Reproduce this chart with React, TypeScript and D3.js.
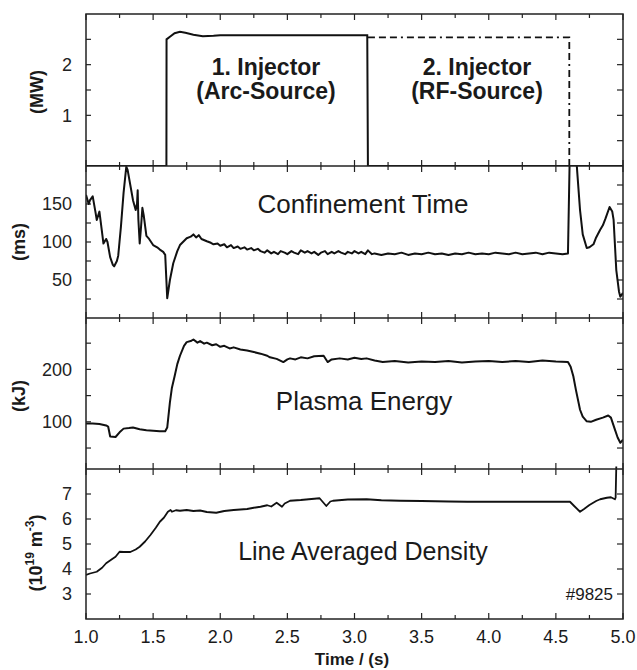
import React from "react";
import * as d3 from "d3";

// ---------- data ----------
const timeTicks = [1.0, 1.5, 2.0, 2.5, 3.0, 3.5, 4.0, 4.5, 5.0];

// Panel 1: injector power (MW)
const inj1T = [1.0, 1.599, 1.6, 1.63, 1.66, 1.7, 1.74, 1.8, 1.87, 1.95, 2.0, 2.5, 3.0, 3.095, 3.1, 5.0];
const inj1V = [0, 0, 2.5, 2.56, 2.62, 2.65, 2.63, 2.59, 2.56, 2.57, 2.58, 2.58, 2.58, 2.58, 0, 0];
const inj2T = [3.1, 4.6, 4.6];
const inj2V = [2.54, 2.54, 0];

// Panel 2: confinement time (ms)
const tauT = [1.0, 1.02, 1.03, 1.05, 1.07, 1.08, 1.1, 1.12, 1.13, 1.15, 1.16, 1.18, 1.2, 1.21, 1.23, 1.24, 1.26, 1.28, 1.3, 1.31, 1.33, 1.35, 1.37, 1.38, 1.385, 1.39, 1.4, 1.41, 1.42, 1.43, 1.45, 1.47, 1.5, 1.53, 1.55, 1.575, 1.59, 1.605, 1.625, 1.65, 1.68, 1.7, 1.75, 1.78, 1.8, 1.82, 1.84, 1.86, 1.9, 1.93, 1.95, 1.98, 2.0, 2.03, 2.05, 2.08, 2.1, 2.13, 2.15, 2.18, 2.2, 2.23, 2.25, 2.28, 2.3, 2.33, 2.35, 2.38, 2.4, 2.43, 2.45, 2.48, 2.5, 2.53, 2.55, 2.58, 2.6, 2.63, 2.65, 2.68, 2.7, 2.73, 2.75, 2.78, 2.8, 2.83, 2.85, 2.88, 2.9, 2.93, 2.95, 2.98, 3.0, 3.03, 3.05, 3.08, 3.1, 3.13, 3.15, 3.2, 3.25, 3.3, 3.35, 3.4, 3.45, 3.5, 3.55, 3.6, 3.65, 3.7, 3.75, 3.8, 3.85, 3.9, 3.95, 4.0, 4.05, 4.1, 4.15, 4.2, 4.25, 4.3, 4.35, 4.4, 4.45, 4.5, 4.55, 4.59, 4.605, 4.64, 4.66, 4.68, 4.7, 4.73, 4.75, 4.78, 4.8, 4.83, 4.85, 4.87, 4.9, 4.92, 4.93, 4.95, 4.97, 4.98, 5.0];
const tauV = [162, 150, 155, 160, 140, 129, 140, 112, 98, 104, 100, 80, 70, 68, 75, 82, 120, 165, 199, 195, 175, 155, 142, 150, 168, 130, 98, 120, 145, 135, 108, 104, 96, 93, 90, 87, 83, 26, 50, 72, 88, 96, 105, 107, 110, 106, 109, 104, 101, 99, 97, 98, 95, 97, 93, 96, 92, 94, 91, 93, 90, 92, 89, 91, 88, 86, 89, 85, 87, 84, 88, 86, 84, 88, 86, 84, 89, 86, 88, 85, 87, 83, 86, 88, 84, 87, 85, 88, 86, 84, 87, 85, 88, 85, 87, 84, 89, 84, 85, 83, 85, 84, 86, 83, 85, 84, 86, 84, 85, 83, 85, 84, 86, 84, 85, 84, 86, 85, 84, 86, 84, 85, 86, 84, 86, 85, 84, 85, 230, 240, 190, 142, 110, 92, 93, 97, 106, 116, 122, 131, 146, 140, 129, 63, 35, 28, 33];

// Panel 3: plasma energy (kJ)
const wT = [1.0, 1.05, 1.1, 1.15, 1.165, 1.18, 1.22, 1.25, 1.28, 1.32, 1.35, 1.4, 1.45, 1.5, 1.55, 1.59, 1.605, 1.625, 1.64, 1.66, 1.68, 1.7, 1.73, 1.75, 1.78, 1.8, 1.83, 1.85, 1.88, 1.9, 1.94, 1.97, 2.0, 2.03, 2.07, 2.1, 2.15, 2.2, 2.25, 2.3, 2.35, 2.37, 2.42, 2.47, 2.5, 2.52, 2.56, 2.6, 2.65, 2.7, 2.77, 2.8, 2.83, 2.89, 2.95, 3.0, 3.05, 3.09, 3.15, 3.21, 3.3, 3.4, 3.5, 3.6, 3.7, 3.8, 3.9, 4.0, 4.1, 4.2, 4.3, 4.4, 4.5, 4.59, 4.61, 4.63, 4.65, 4.68, 4.7, 4.73, 4.76, 4.8, 4.85, 4.89, 4.91, 4.94, 4.96, 4.98, 5.0];
const wV = [97, 97, 96, 93, 91, 72, 71, 80, 87, 88, 89, 86, 84, 83, 82, 82, 89, 137, 165, 187, 210, 226, 245, 252, 254, 257, 251, 254, 249, 251, 246, 248, 243, 245, 240, 242, 238, 236, 233, 230, 226, 223, 220, 214, 219, 221, 219, 223, 221, 225, 226, 214, 219, 221, 219, 222, 220, 221, 217, 214, 216, 213, 215, 214, 216, 213, 215, 216, 214, 216, 214, 217, 215, 214, 205, 187, 160, 123, 110, 101, 100, 104, 108, 112, 108, 85, 70, 60, 66];

// Panel 4: line averaged density (1e19 m^-3)
const nT = [1.0, 1.03, 1.08, 1.12, 1.15, 1.19, 1.22, 1.25, 1.28, 1.33, 1.37, 1.4, 1.44, 1.48, 1.52, 1.55, 1.58, 1.61, 1.63, 1.64, 1.67, 1.7, 1.75, 1.8, 1.85, 1.9, 1.97, 2.03, 2.1, 2.15, 2.2, 2.25, 2.3, 2.35, 2.38, 2.42, 2.46, 2.48, 2.52, 2.6, 2.68, 2.74, 2.79, 2.82, 2.84, 2.95, 3.09, 3.2, 3.34, 3.5, 3.7, 3.84, 4.0, 4.33, 4.605, 4.64, 4.68, 4.71, 4.75, 4.8, 4.83, 4.88, 4.91, 4.94, 4.945, 4.95];
const nV = [3.76, 3.82, 3.89, 4.05, 4.23, 4.38, 4.49, 4.69, 4.68, 4.68, 4.78, 4.89, 5.1, 5.36, 5.65, 5.89, 6.05, 6.29, 6.36, 6.29, 6.35, 6.33, 6.36, 6.32, 6.34, 6.28, 6.25, 6.32, 6.36, 6.38, 6.4, 6.45, 6.49, 6.55, 6.5, 6.65, 6.49, 6.62, 6.73, 6.76, 6.8, 6.83, 6.52, 6.7, 6.73, 6.78, 6.79, 6.75, 6.73, 6.72, 6.7, 6.69, 6.69, 6.69, 6.69, 6.5, 6.29, 6.4, 6.56, 6.72, 6.79, 6.85, 6.87, 6.79, 6.85, 8.1];

const p1Ticks = [0.5, 1, 1.5, 2, 2.5];
const p1Labels = [1, 2];
const p2Ticks = [25, 50, 75, 100, 125, 150, 175];
const p2Labels = [50, 100, 150];
const p3Ticks = [50, 100, 150, 200, 250];
const p3Labels = [100, 200];
const p4Ticks = [3, 4, 5, 6, 7];
const p4Labels = [3, 4, 5, 6, 7];

// ---------- layout ----------
const W = 637;
const H = 670;
const L = 86;
const R = 623;
const tops = [14, 166, 318, 469];
const bottom = 619;
const FONT = "'Liberation Sans', Arial, Helvetica, sans-serif";

const x = d3.scaleLinear().domain([1, 5]).range([L, R]);

function Panel({ top, bot, domain, tickVals, labelVals, id, children }: any) {
  const y = d3.scaleLinear().domain(domain).range([bot, top]);
  return (
    <g>
      <defs>
        <clipPath id={id}>
          <rect x={L} y={top} width={R - L} height={bot - top} />
        </clipPath>
      </defs>
      {tickVals.map((v: number) => (
        <g key={v}>
          <line x1={L} x2={L + 5} y1={y(v)} y2={y(v)} stroke="#222" strokeWidth={1.2} />
          <line x1={R - 6} x2={R} y1={y(v)} y2={y(v)} stroke="#222" strokeWidth={1.2} />
        </g>
      ))}
      {labelVals.map((v: number) => (
        <text key={"l" + v} x={72} y={y(v)} dy="0.36em" textAnchor="end" fontSize={18} fontFamily={FONT} fill="#222">
          {v}
        </text>
      ))}
      <g clipPath={`url(#${id})`}>{children(y)}</g>
    </g>
  );
}

function mkLine(ts: number[], vs: number[], y: any) {
  const pts = ts.map((t, i) => [t, vs[i]] as [number, number]);
  return d3.line<[number, number]>().x((d) => x(d[0])).y((d) => y(d[1]))(pts) || "";
}

export default function App() {
  const minorX = d3.range(1, 5.0001, 0.25);
  return (
    <svg width={W} height={H} style={{ position: "absolute", left: 0, top: 0, background: "#fff" }}>
      <rect x={0} y={0} width={W} height={H} fill="#fff" />
      {[...tops, bottom].map((yy, bi) =>
        minorX.map((t) => {
          const major = Math.abs(t * 2 - Math.round(t * 2)) < 1e-6;
          const len = major ? 6 : 4;
          const up = bi > 0 ? len : 0;
          const down = bi < 4 ? len : 0;
          return <line key={bi + "-" + t} x1={x(t)} x2={x(t)} y1={yy - up} y2={yy + down} stroke="#222" strokeWidth={1.2} />;
        })
      )}

      <Panel id="c1" top={tops[0]} bot={tops[1]} domain={[0, 3]} tickVals={p1Ticks} labelVals={p1Labels}>
        {(y: any) => (
          <g fill="none" stroke="#111">
            <path d={mkLine(inj1T, inj1V, y)} strokeWidth={2} />
            <path d={mkLine(inj2T, inj2V, y)} strokeWidth={1.8} strokeDasharray="7,4,7,4,7,4,2,4" />
          </g>
        )}
      </Panel>
      <Panel id="c2" top={tops[1]} bot={tops[2]} domain={[0, 200]} tickVals={p2Ticks} labelVals={p2Labels}>
        {(y: any) => <path d={mkLine(tauT, tauV, y)} fill="none" stroke="#111" strokeWidth={2} strokeLinejoin="round" />}
      </Panel>
      <Panel id="c3" top={tops[2]} bot={tops[3]} domain={[10, 298]} tickVals={p3Ticks} labelVals={p3Labels}>
        {(y: any) => <path d={mkLine(wT, wV, y)} fill="none" stroke="#111" strokeWidth={2} strokeLinejoin="round" />}
      </Panel>
      <Panel id="c4" top={tops[3] - 14} bot={bottom} domain={[2, 8.56]} tickVals={p4Ticks} labelVals={p4Labels}>
        {(y: any) => <path d={mkLine(nT, nV, y)} fill="none" stroke="#111" strokeWidth={1.8} strokeLinejoin="round" />}
      </Panel>

      <rect x={L} y={tops[0]} width={R - L} height={bottom - tops[0]} fill="none" stroke="#222" strokeWidth={1.5} />
      {tops.slice(1).map((yy) => (
        <line key={yy} x1={L} x2={R} y1={yy} y2={yy} stroke="#222" strokeWidth={1.5} />
      ))}

      <g fontFamily={FONT} fill="#1a1a1a">
        <text x={266} y={75} textAnchor="middle" fontSize={23} fontWeight="bold">1. Injector</text>
        <text x={266} y={99} textAnchor="middle" fontSize={23} fontWeight="bold">(Arc-Source)</text>
        <text x={477} y={75} textAnchor="middle" fontSize={23} fontWeight="bold">2. Injector</text>
        <text x={477} y={99} textAnchor="middle" fontSize={23} fontWeight="bold">(RF-Source)</text>
        <text x={363} y={213} textAnchor="middle" fontSize={26}>Confinement Time</text>
        <text x={364} y={410} textAnchor="middle" fontSize={26}>Plasma Energy</text>
        <text x={363} y={560} textAnchor="middle" fontSize={25}>Line Averaged Density</text>
        <text x={613} y={600} textAnchor="end" fontSize={17}>#9825</text>
      </g>

      <g fontFamily={FONT} fill="#1a1a1a" fontWeight="bold" fontSize={18}>
        <text transform="translate(43,92) rotate(-90)" textAnchor="middle">(MW)</text>
        <text transform="translate(25,242) rotate(-90)" textAnchor="middle">(ms)</text>
        <text transform="translate(25,396) rotate(-90)" textAnchor="middle">(kJ)</text>
        <text transform="translate(42,553) rotate(-90)" textAnchor="middle">
          (10<tspan dy={-8} fontSize={12}>19</tspan>
          <tspan dy={8}> m</tspan>
          <tspan dy={-8} fontSize={12}>-3</tspan>
          <tspan dy={8}>)</tspan>
        </text>
      </g>

      <g fontFamily={FONT} fill="#1a1a1a">
        {timeTicks.map((t) => (
          <text key={t} x={x(t)} y={643} textAnchor="middle" fontSize={18}>
            {t.toFixed(1)}
          </text>
        ))}
        <text x={352} y={665} textAnchor="middle" fontSize={17} fontWeight="bold">Time / (s)</text>
      </g>
    </svg>
  );
}
